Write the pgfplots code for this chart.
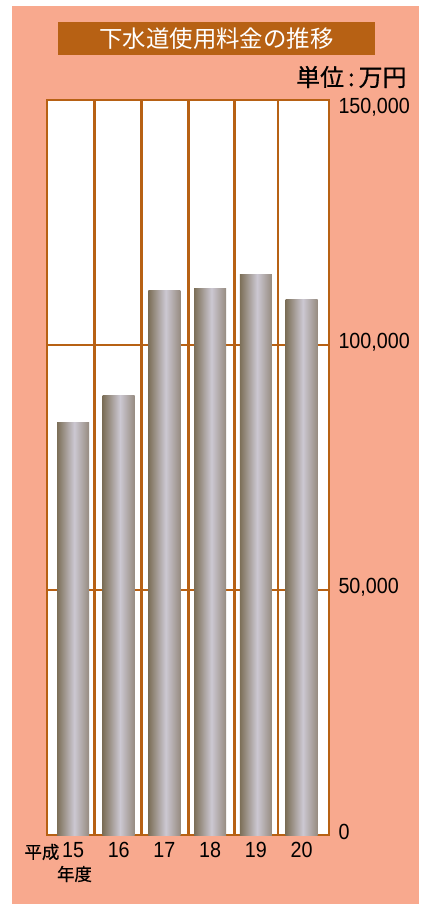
\documentclass[border=0pt]{standalone}
\usepackage{fontspec}
\usepackage{pgfplots}
\pgfplotsset{compat=1.18}
\setmainfont{Liberation Sans}
\newfontfamily\cjk{Noto Sans CJK JP}
\newfontfamily\cjkm[FakeBold=0.6]{Noto Sans CJK JP}
\newfontfamily\numfont[FakeStretch=0.9]{Liberation Sans}
\definecolor{salmon}{RGB}{248,169,142}
\definecolor{gridbrown}{RGB}{183,97,20}
\definecolor{bardark}{RGB}{124,111,88}
\definecolor{barlight}{RGB}{204,200,210}
\definecolor{barright}{RGB}{150,139,128}
\pgfdeclarehorizontalshading{barshade}{100bp}{color(0bp)=(bardark); color(25bp)=(bardark); color(52bp)=(barlight); color(75bp)=(barright); color(100bp)=(barright)}
\pgfplotsset{gradbar/.style={draw=none, bar shift=0pt, shading=barshade}}
\begin{document}
\begin{tikzpicture}
\useasboundingbox (0,0) rectangle (425bp,-904bp);
\fill[white] (0,0) rectangle (425bp,-904bp);
\fill[salmon] (12bp,-6bp) rectangle (419bp,-904bp);
\fill[gridbrown] (58bp,-22bp) rectangle (375bp,-55bp);
\node[text=white, font=\cjk\fontsize{23.5}{24}\selectfont] at (216.5bp,-38.5bp) {下水道使用料金の推移};
\node[anchor=east, font=\cjkm\fontsize{24}{24}\selectfont] at (410bp,-77bp) {単位\,:\,万円};
\node[font=\cjkm\fontsize{17.5}{18}\selectfont] at (42bp,-852bp) {平成};
\node[font=\cjkm\fontsize{17.5}{18}\selectfont] at (74.5bp,-874bp) {年度};
\begin{axis}[
  at={(47bp,-835bp)}, anchor=south west,
  scale only axis, width=282bp, height=735bp,
  xmin=-0.569, xmax=5.60, ymin=0, ymax=150000,
  axis background/.style={fill=white},
  axis line style={draw=gridbrown, line width=2.5bp},
  ybar, bar width=32bp,
  xtick={0,1,2,3,4,5}, xticklabels={15,16,17,18,19,20},
  extra x ticks={0.466,1.503,2.527,3.530,4.479},
  extra x tick labels={},
  extra x tick style={grid=major},
  ytick={0,50000,100000},
  extra y ticks={150000},
  extra y tick style={yticklabel style={yshift=-10bp}},
  ymajorgrids,
  major grid style={draw=gridbrown, line width=2.5bp},
  yticklabel pos=right,
  major tick length=0pt,
  tick style={draw=none},
  scaled y ticks=false,
  /pgf/number format/fixed,
  /pgf/number format/precision=0,
  /pgf/number format/1000 sep={,},
  /pgf/number format/assume math mode=true,
  yticklabel style={xshift=6bp, yshift=3bp},
  xticklabel style={yshift=-4bp},
  ticklabel style={font=\numfont\fontsize{22}{22}\selectfont},
]
\addplot[gradbar] coordinates {(0,84100)};
\addplot[gradbar] coordinates {(1,89600)};
\addplot[gradbar] coordinates {(2,111200)};
\addplot[gradbar] coordinates {(3,111600)};
\addplot[gradbar] coordinates {(4,114300)};
\addplot[gradbar] coordinates {(5,109200)};
\end{axis}
\end{tikzpicture}
\end{document}
